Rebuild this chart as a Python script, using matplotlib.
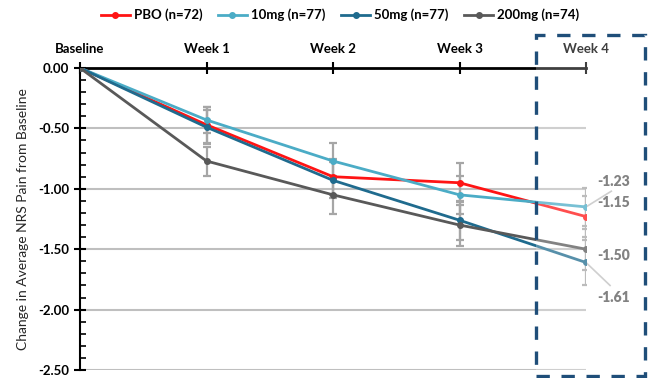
import matplotlib
matplotlib.use("Agg")
import matplotlib.pyplot as plt
from matplotlib.patches import Rectangle
from matplotlib.lines import Line2D
import numpy as np

plt.rcParams['font.family'] = ['Lato', 'DejaVu Sans']

# data
semanas = ["Baseline", "Week 1", "Week 2", "Week 3", "Week 4"]
grupos = ["PBO (n=72)", "10mg (n=77)", "50mg (n=77)", "200mg (n=74)"]
pbo = [0.0, -0.47, -0.90, -0.95, -1.23]
dose10 = [0.0, -0.43, -0.77, -1.05, -1.15]
dose50 = [0.0, -0.49, -0.93, -1.26, -1.61]
dose200 = [0.0, -0.77, -1.05, -1.30, -1.50]
erro_pbo = [0.0, 0.15, 0.15, 0.16, 0.17]
erro10 = [0.0, 0.11, 0.15, 0.16, 0.16]
erro50 = [0.0, 0.14, 0.15, 0.16, 0.19]
erro200 = [0.0, 0.12, 0.16, 0.17, 0.17]
rotulos = ["-1.23", "-1.15", "-1.50", "-1.61"]
cores = ["#ff1414", "#4bacc6", "#1f6b8e", "#595959"]

fig = plt.figure(figsize=(6.48, 3.78), dpi=100)
ax = fig.add_axes([80/648, 1 - 370/378, (586 - 80)/648, (370 - 68)/378])

x = np.arange(len(semanas))
series = [pbo, dose10, dose50, dose200]
erros = [erro_pbo, erro10, erro50, erro200]

for serie, erro in zip(series, erros):
    ax.errorbar(x[1:], serie[1:], yerr=erro[1:], fmt='none', ecolor="#a6a6a6",
                elinewidth=1.6, capsize=3, capthick=1.6, zorder=2)

for serie, cor, nome in zip(series, cores, grupos):
    ax.plot(x, serie, color=cor, lw=2, marker='o', markersize=4, label=nome, zorder=3)

ax.set_xlim(0, 4)
ax.set_ylim(-2.5, 0)
ax.set_yticks([0, -0.5, -1.0, -1.5, -2.0, -2.5])
ax.set_yticklabels(["0.00", "-0.50", "-1.00", "-1.50", "-2.00", "-2.50"],
                   fontweight='bold', fontsize=9.5)
ax.set_yticks(np.arange(-2.5, 0.01, 0.1), minor=True)
ax.yaxis.grid(True, color="#bfbfbf", lw=1.5)
ax.set_axisbelow(True)

ax.xaxis.tick_top()
ax.set_xticks(x)
ax.set_xticklabels(semanas, fontweight='bold', fontsize=9.5)
ax.tick_params(axis='x', direction='inout', length=9, width=1.5, pad=5)
ax.tick_params(axis='y', which='major', direction='inout', length=9, width=1.5)
ax.tick_params(axis='y', which='minor', direction='in', length=4, width=1.2)

for lado in ['bottom', 'right']:
    ax.spines[lado].set_visible(False)
ax.spines['top'].set_linewidth(2)
ax.spines['left'].set_linewidth(1.5)

ax.set_ylabel("Change in Average NRS Pain from Baseline", fontsize=10, color="#262626", labelpad=6)

# rotulos finais
ax.plot([4, 4.2], [-1.15, -1.02], color="#bfbfbf", lw=1.2, clip_on=False, zorder=1)
ax.plot([4, 4.19], [-1.61, -1.80], color="#bfbfbf", lw=1.2, clip_on=False, zorder=1)
posicoes_y = [-0.94, -1.11, -1.55, -1.90]
for texto, py in zip(rotulos, posicoes_y):
    ax.text(4.22, py, texto, fontsize=10, fontweight='heavy', color="#595959",
            ha='center', va='center', clip_on=False)

# legenda
handles = [Line2D([0], [0], color=c, lw=2, marker='o', markersize=4) for c in cores]
fig.legend(handles, grupos, loc='center', bbox_to_anchor=(340/648, 1 - 15/378), ncol=4,
           frameon=False, prop={'weight': 'bold', 'size': 9.5}, handlelength=2.2,
           handletextpad=0.3, columnspacing=1.2)

# caixa tracejada
caixa = Rectangle((536/648, 1 - 376/378), (645 - 536)/648, (376 - 35)/378,
                  transform=fig.transFigure, facecolor="white", alpha=0.25,
                  edgecolor='none', zorder=5)
fig.add_artist(caixa)
borda = Rectangle((536/648, 1 - 376/378), (645 - 536)/648, (376 - 35)/378,
                  transform=fig.transFigure, facecolor='none', edgecolor="#1f4e79",
                  lw=2.4, linestyle=(0, (4, 3.5)), zorder=6)
fig.add_artist(borda)

fig.savefig("out.png", dpi=100)
